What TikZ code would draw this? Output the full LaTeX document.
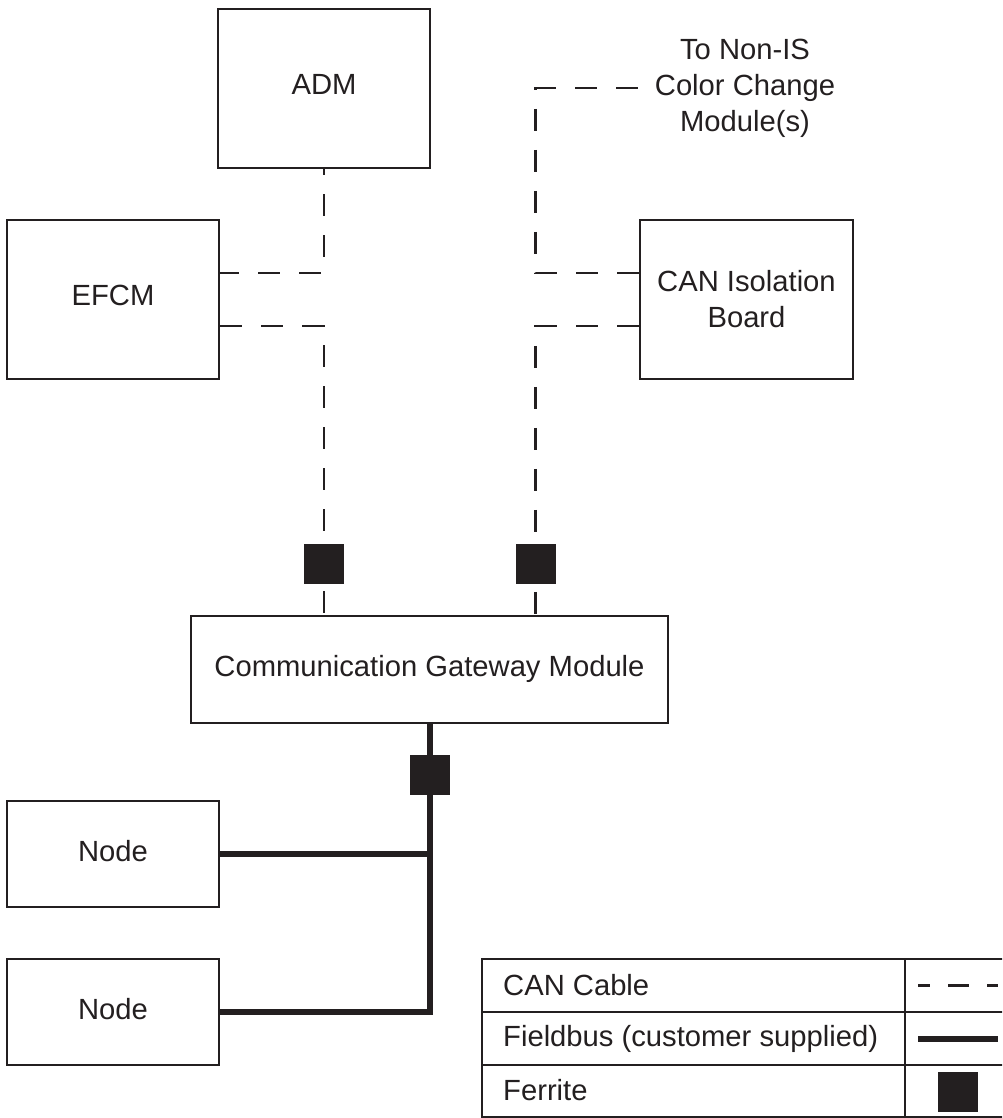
\documentclass[tikz,border=0pt]{standalone}
\usepackage{fontspec}
\setmainfont{Liberation Sans}
\begin{document}
\begin{tikzpicture}[x=1pt,y=-1pt,
  box/.style={draw=inkc, line width=2.7pt, inner sep=0pt, align=center, text=inkc},
  can/.style={draw=inkc, line width=2.3pt, dash pattern=on 22pt off 19pt},
  bus/.style={draw=inkc, line width=5.2pt, line join=miter},
  ferrite/.style={fill=inkc, minimum size=40pt, inner sep=0pt},
  lbl/.style={text=inkc, align=center},
  grid/.style={draw=inkc, line width=2.8pt}]
\definecolor{inkc}{HTML}{231F20}
\fontsize{29.2pt}{36pt}\selectfont
\useasboundingbox (0,0) rectangle (1002,1118);
\clip (0,0) rectangle (1002,1118);
% boxes
\node[box, text depth=8pt, minimum width=212pt, minimum height=159pt] (ADM) at (324,88.5) {ADM};
\node[box, text depth=8pt, minimum width=212pt, minimum height=159pt] (EFCM) at (113,299.5) {EFCM};
\node[box, minimum width=213pt, minimum height=159pt] (CAN) at (746.5,299.5) {CAN Isolation\\Board};
\node[box, text depth=7pt, minimum width=477pt, minimum height=107pt] (CGM) at (429.5,669.5) {Communication Gateway Module};
\node[box, text depth=6pt, minimum width=212pt, minimum height=106pt] (N1) at (113,854) {Node};
\node[box, text depth=6pt, minimum width=212pt, minimum height=106pt] (N2) at (113,1012) {Node};
\node[lbl, inner xsep=17pt, inner ysep=0pt] (NIS) at (745,88) {To Non-IS\\Color Change\\Module(s)};
% anchor points
\coordinate (e1) at ([yshift=26.5pt]EFCM.east);
\coordinate (e2) at ([yshift=-26.5pt]EFCM.east);
\coordinate (c1) at ([yshift=26.5pt]CAN.west);
\coordinate (c2) at ([yshift=-26.5pt]CAN.west);
\coordinate (lx) at (324,0);
\coordinate (rx) at (535.5,0);
\coordinate (bx) at (430,0);
% CAN cables
\draw[can, dash phase=16pt] (ADM.south) -- (ADM.south |- e1) -- (e1);
\draw[can] (e2) -- (lx |- e2) -- (lx |- CGM.north);
\draw[can] (NIS.west) -- (rx |- NIS.west) -- (rx |- c1) -- (c1);
\draw[can] (c2) -- (rx |- c2) -- (rx |- CGM.north);
% fieldbus
\draw[bus] (bx |- CGM.south) -- (bx |- N2.east) -- (N2.east);
\draw[bus] (N1.east) -- (bx |- N1.east);
% ferrites
\node[ferrite] (F1) at (324,563.5) {};
\node[ferrite] (F2) at (535.5,563.5) {};
\node[ferrite] (F3) at (430,775) {};
% legend
\draw[grid] (482,959) rectangle (1012,1117);
\draw[grid] (482,1012) -- (1012,1012);
\draw[grid] (482,1065) -- (1012,1065);
\draw[grid] (905,959) -- (905,1117);
\node[lbl, anchor=west, inner sep=0pt] (L1) at (503,985.5) {CAN Cable};
\node[lbl, anchor=west, inner sep=0pt] (L2) at (503,1038.5) {Fieldbus (customer supplied)};
\node[lbl, anchor=west, inner sep=0pt] (L3) at (503,1090) {Ferrite};
\coordinate (s1a) at (918,985.5);
\coordinate (s1b) at (998,985.5);
\coordinate (s2a) at (918,1039);
\coordinate (s2b) at (998,1039);
\draw[can, dash pattern=on 21pt off 18pt, dash phase=9pt] (s1a) -- (s1b);
\draw[bus] (s2a) -- (s2b);
\node[ferrite] (F4) at (958,1092) {};
\end{tikzpicture}
\end{document}
